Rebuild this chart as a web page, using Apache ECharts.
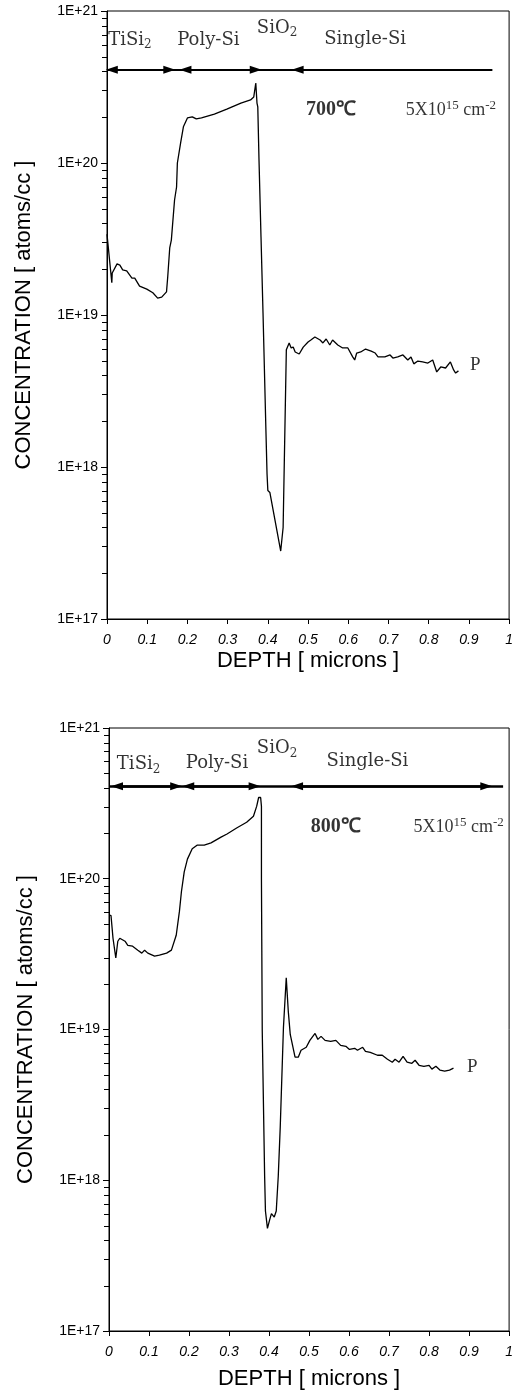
<!DOCTYPE html>
<html><head><meta charset="utf-8">
<script src="https://cdn.jsdelivr.net/npm/echarts@6/dist/echarts.min.js"></script>
<style>html,body{margin:0;padding:0;background:#fff}#c{width:516px;height:1391px}</style>
</head><body><div id="c"></div>
<script>
// ---- data ----
const depth700 = [0.000,0.003,0.012,0.013,0.025,0.032,0.039,0.049,0.062,0.069,0.081,0.099,0.114,0.126,0.136,0.148,0.151,0.156,0.160,0.168,0.173,0.175,0.183,0.190,0.200,0.212,0.222,0.235,0.267,0.298,0.333,0.357,0.365,0.370,0.373,0.375,0.378,0.383,0.388,0.395,0.398,0.400,0.405,0.432,0.438,0.441,0.446,0.453,0.458,0.463,0.468,0.478,0.488,0.500,0.507,0.517,0.530,0.537,0.545,0.554,0.561,0.574,0.586,0.599,0.611,0.616,0.621,0.631,0.643,0.657,0.667,0.674,0.691,0.704,0.711,0.723,0.736,0.748,0.756,0.763,0.773,0.785,0.798,0.810,0.820,0.830,0.842,0.854,0.862,0.867,0.874];
const conc700 = [3.4e19,3.3e19,1.63e19,1.89e19,2.17e19,2.13e19,1.98e19,1.95e19,1.75e19,1.75e19,1.55e19,1.48e19,1.40e19,1.29e19,1.31e19,1.42e19,1.78e19,2.76e19,3.11e19,5.71e19,6.95e19,1.0e20,1.35e20,1.73e20,1.98e20,2.01e20,1.95e20,1.98e20,2.10e20,2.26e20,2.48e20,2.60e20,2.72e20,3.36e20,2.48e20,2.34e20,1.05e20,3.26e19,1.03e19,1.83e18,9e17,7e17,6.8e17,2.8e17,4.0e17,1.1e18,5.9e18,6.55e18,6.07e18,6.15e18,5.71e18,5.54e18,6.15e18,6.64e18,6.85e18,7.17e18,6.85e18,6.55e18,6.95e18,6.35e18,6.85e18,6.35e18,6.07e18,6.07e18,5.30e18,5.06e18,5.62e18,5.71e18,5.97e18,5.79e18,5.62e18,5.30e18,5.30e18,5.46e18,5.21e18,5.30e18,5.46e18,5.06e18,5.30e18,4.77e18,4.98e18,4.91e18,4.83e18,5.06e18,4.22e18,4.55e18,4.48e18,4.91e18,4.35e18,4.15e18,4.29e18];

const depth800 = [0.000,0.005,0.010,0.017,0.022,0.027,0.040,0.047,0.059,0.072,0.082,0.089,0.097,0.114,0.126,0.144,0.156,0.168,0.176,0.181,0.188,0.196,0.208,0.220,0.238,0.255,0.280,0.295,0.319,0.344,0.361,0.369,0.374,0.379,0.381,0.381,0.383,0.389,0.391,0.396,0.401,0.406,0.413,0.418,0.423,0.428,0.436,0.443,0.448,0.453,0.465,0.473,0.480,0.493,0.502,0.515,0.522,0.530,0.540,0.554,0.567,0.579,0.592,0.601,0.614,0.621,0.634,0.641,0.653,0.671,0.683,0.696,0.708,0.715,0.725,0.735,0.745,0.757,0.765,0.775,0.787,0.800,0.807,0.817,0.827,0.839,0.851,0.861];
const conc800 = [5.71e19,5.71e19,4.03e19,2.98e19,3.85e19,4.03e19,3.85e19,3.62e19,3.57e19,3.36e19,3.21e19,3.36e19,3.21e19,3.07e19,3.11e19,3.21e19,3.36e19,4.22e19,6.07e19,8.2e19,1.11e20,1.35e20,1.58e20,1.67e20,1.67e20,1.73e20,1.89e20,1.98e20,2.17e20,2.37e20,2.60e20,3.02e20,3.46e20,3.46e20,3.02e20,1.0e20,9.85e18,1.06e18,6.25e17,4.8e17,5.4e17,6.0e17,5.7e17,6.25e17,1.06e18,2.26e18,1.03e19,2.2e19,1.33e19,9.27e18,6.55e18,6.55e18,7.28e18,7.62e18,8.47e18,9.42e18,8.6e18,9.0e18,8.47e18,8.34e18,8.47e18,7.85e18,7.73e18,7.38e18,7.5e18,7.28e18,7.62e18,7.17e18,7.06e18,6.75e18,6.75e18,6.35e18,6.07e18,6.35e18,6.07e18,6.64e18,6.07e18,5.97e18,6.25e18,5.79e18,5.70e18,5.79e18,5.46e18,5.70e18,5.38e18,5.30e18,5.38e18,5.54e18];

const yTickLabels = ['1E+17','1E+18','1E+19','1E+20','1E+21'];
const xTickLabels = ['0','0.1','0.2','0.3','0.4','0.5','0.6','0.7','0.8','0.9','1'];
const minorTickValues = [];
[1e17,1e18,1e19,1e20].forEach(d => { for (let k = 2; k <= 9; k++) minorTickValues.push(k * d); });

// layer header arrows (depth ranges, microns) and level (atoms/cc)
const headerLevel = 4.1e20;
const headerLine700 = [0, 0.958];
const tisiArrow700 = [0.012, 0.155];
const polyArrow700 = [0.195, 0.370];
const singleArrow700 = [0.474, 0.958];
const headerLine800 = [0, 0.985];
const tisiArrow800 = [0.020, 0.168];
const polyArrow800 = [0.198, 0.364];
const singleArrow800 = [0.470, 0.943];

const tempLabels = ['700℃', '800℃'];
const doseLabel = ['5X10', '15', ' cm', '-2'];
const speciesLabel = 'P';

// ---- layout config ----
const panelLayout = [
  {grid: {left: 107, top: 11, width: 404, height: 608}, xNameGap: 31,
   ann: {tisi: [0.057, 6.45e20], poly: [0.252, 6.45e20], sio2: [0.423, 7.73e20], single: [0.642, 6.55e20],
         temp: [0.557, 2.23e20], dose: [0.855, 2.23e20], p: [0.916, 4.69e18]},
   line: headerLine700, arrows: [[tisiArrow700, true, true], [polyArrow700, true, true], [singleArrow700, true, false]], lineWidth: 2},
  {grid: {left: 109, top: 728, width: 404, height: 608}, xNameGap: 37,
   ann: {tisi: [0.074, 5.71e20], poly: [0.270, 5.87e20], sio2: [0.420, 7.28e20], single: [0.646, 5.97e20],
         temp: [0.567, 2.2e20], dose: [0.874, 2.2e20], p: [0.908, 5.62e18]},
   line: headerLine800, arrows: [[tisiArrow800, true, true], [polyArrow800, true, true], [singleArrow800, true, true]], lineWidth: 2.6}
];

const rich = {
  h: {fontFamily: 'DejaVu Serif', fontSize: 18, color: '#000', lineHeight: 22},
  hs: {fontFamily: 'DejaVu Serif', fontSize: 12, color: '#000', lineHeight: 12, verticalAlign: 'bottom'},
  t: {fontFamily: 'Liberation Serif', fontSize: 20, fontWeight: 'bold', color: '#000', lineHeight: 22},
  d: {fontFamily: 'Liberation Serif', fontSize: 18, color: '#000', lineHeight: 22},
  ds: {fontFamily: 'Liberation Serif', fontSize: 13, color: '#000', lineHeight: 12, verticalAlign: 'top'},
  p: {fontFamily: 'Liberation Serif', fontSize: 19, color: '#000', lineHeight: 22}
};

const axisFont = 'Liberation Sans';
const grids = [], xAxes = [], yAxes = [], series = [];

panelLayout.forEach((L, i) => {
  const depth = i === 0 ? depth700 : depth800;
  const conc = i === 0 ? conc700 : conc800;
  grids.push(Object.assign({show: true, borderColor: '#000', borderWidth: 1, backgroundColor: 'transparent'}, L.grid));
  xAxes.push({
    gridIndex: i, type: 'value', min: 0, max: 1, interval: 0.1,
    name: 'DEPTH [ microns ]', nameLocation: 'middle', nameGap: L.xNameGap,
    nameTextStyle: {fontFamily: axisFont, fontSize: 22, color: '#000'},
    axisLine: {show: true, lineStyle: {color: '#000', width: 1}},
    axisTick: {show: true, inside: false, length: 5, lineStyle: {color: '#000'}},
    axisLabel: {fontFamily: axisFont, fontSize: 14, fontStyle: 'italic', color: '#000', margin: 14,
      formatter: v => xTickLabels[Math.round(v * 10)]},
    splitLine: {show: false}
  });
  yAxes.push({
    gridIndex: i, type: 'log', logBase: 10, min: 1e17, max: 1e21,
    name: 'CONCENTRATION [ atoms/cc ]', nameLocation: 'middle', nameGap: 72,
    nameTextStyle: {fontFamily: axisFont, fontSize: 22, color: '#000'},
    axisLine: {show: true, lineStyle: {color: '#000', width: 1}},
    axisTick: {show: true, inside: false, length: 6, lineStyle: {color: '#000'}},
    axisLabel: {fontFamily: axisFont, fontSize: 14, color: '#000', margin: 9,
      formatter: v => yTickLabels[Math.round(Math.log10(v)) - 17]},
    splitLine: {show: false}
  });

  // header arrows
  const mlData = [[{coord: [L.line[0], headerLevel], symbol: 'none'}, {coord: [L.line[1], headerLevel], symbol: 'none'}]];
  L.arrows.forEach(([r, s, e]) => {
    mlData.push([
      {coord: [r[0], headerLevel], symbol: s ? 'triangle' : 'none', symbolSize: [8, 12]},
      {coord: [r[1], headerLevel], symbol: e ? 'triangle' : 'none', symbolSize: [8, 12]}
    ]);
  });

  series.push({
    type: 'line', xAxisIndex: i, yAxisIndex: i, showSymbol: false, symbol: 'none', animation: false,
    lineStyle: {color: '#000', width: 1.3}, itemStyle: {color: '#000'},
    data: depth.map((d, k) => [d, conc[k]]),
    markLine: {silent: true, animation: false, label: {show: false}, emphasis: {disabled: true},
      lineStyle: {color: '#000', width: L.lineWidth, type: 'solid'}, itemStyle: {color: '#000'},
      data: mlData}
  });

  const A = L.ann;
  const annItem = (pos, fmt) => ({value: pos, label: {formatter: fmt}});
  series.push({
    type: 'scatter', xAxisIndex: i, yAxisIndex: i, symbolSize: 1, animation: false, silent: true,
    itemStyle: {color: 'rgba(0,0,0,0)'},
    label: {show: true, position: 'inside', rich: rich, color: '#000'},
    data: [
      annItem(A.tisi, '{h|TiSi}{hs|2}'),
      annItem(A.poly, '{h|Poly-Si}'),
      annItem(A.sio2, '{h|SiO}{hs|2}'),
      annItem(A.single, '{h|Single-Si}'),
      annItem(A.temp, '{t|' + tempLabels[i] + '}'),
      annItem(A.dose, '{d|' + doseLabel[0] + '}{ds|' + doseLabel[1] + '}{d|' + doseLabel[2] + '}{ds|' + doseLabel[3] + '}'),
      annItem(A.p, '{p|' + speciesLabel + '}')
    ]
  });

  // log minor ticks (2..9 per decade), short marks left of the axis
  series.push({
    type: 'custom', xAxisIndex: i, yAxisIndex: i, silent: true, animation: false, clip: false, z: 5,
    data: minorTickValues.map(v => [0, v]),
    renderItem: (params, api) => {
      const c = api.coord([api.value(0), api.value(1)]);
      const y = Math.round(c[1]) + 0.5;
      return {type: 'line', shape: {x1: Math.round(c[0]) - 5, y1: y, x2: Math.round(c[0]), y2: y},
              style: {stroke: '#000', lineWidth: 1}};
    }
  });
});

const chart = echarts.init(document.getElementById('c'), null, {renderer: 'canvas'});
chart.setOption({backgroundColor: '#fff', animation: false, grid: grids, xAxis: xAxes, yAxis: yAxes, series: series});
</script>
</body></html>
